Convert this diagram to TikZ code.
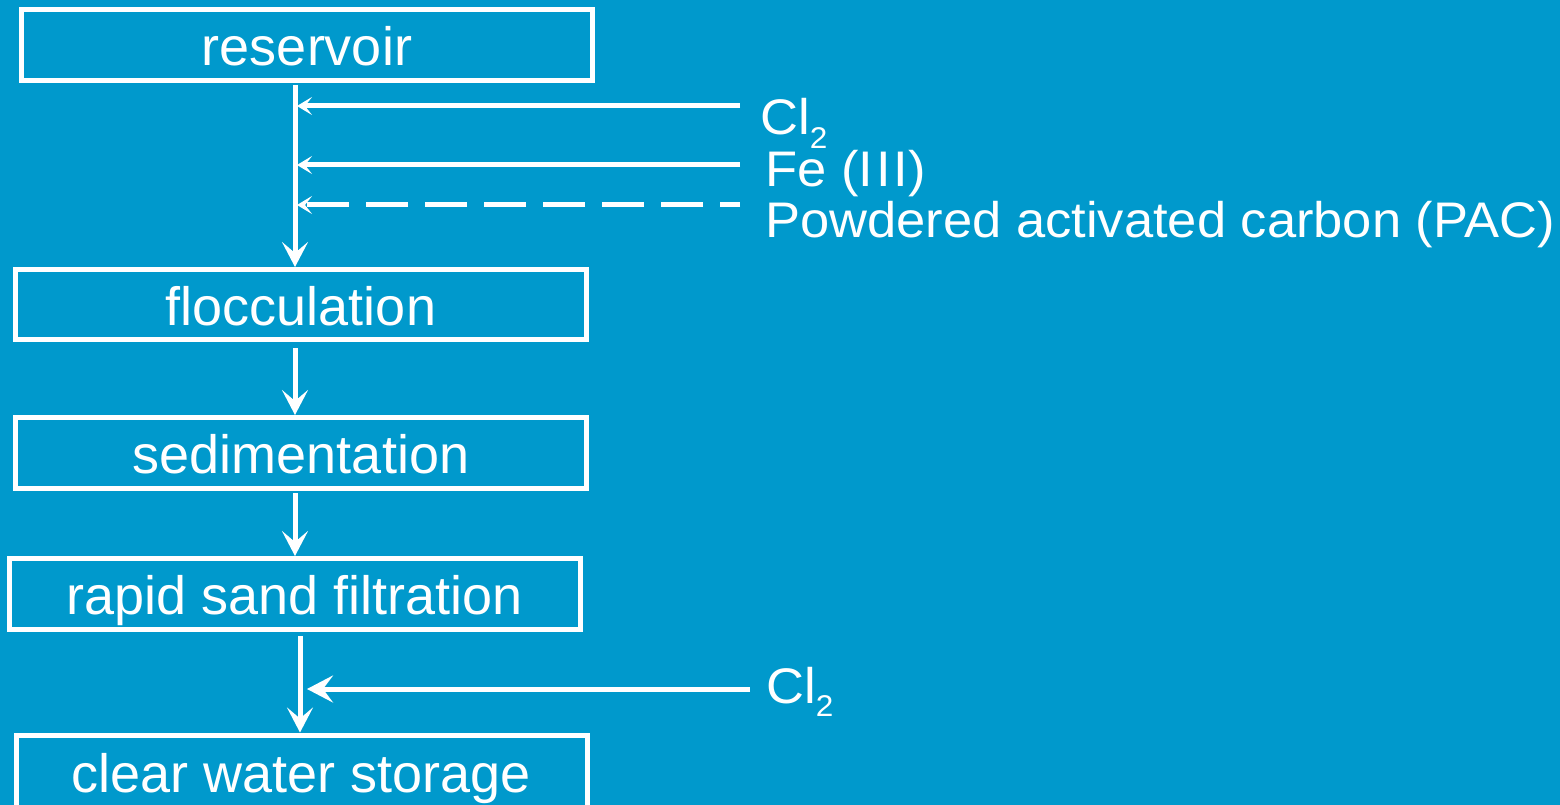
\documentclass[tikz,border=0pt]{standalone}
\usepackage{fontspec}
\setmainfont{Liberation Sans}
\newfontfamily\sidefont{Liberation Sans}[FakeStretch=1.05]
\usetikzlibrary{arrows.meta}
\definecolor{bg}{HTML}{0099CC}
\tikzset{
  stepbox/.style={draw=white, line width=5pt, minimum width=571pt, minimum height=71pt, inner sep=0pt, text height=41pt, text depth=0pt, text=white, font=\fontsize{54}{54}\selectfont},
  flow/.style={draw=white, line width=5pt, -{Stealth[length=25pt,width=26pt,inset=11pt]}},
  feed/.style={draw=white, line width=5pt, -{Stealth[length=15pt,width=18pt,inset=7pt]}},
  feedbig/.style={draw=white, line width=5pt, -{Stealth[length=26pt,width=27pt,inset=10pt]}},
  lbl/.style={anchor=base west, inner sep=0pt, text=white, font=\sidefont\fontsize{50}{50}\selectfont},
}
\newcommand{\subtwo}{{\fontsize{30}{30}\selectfont\raisebox{-13.5pt}{2}}}
\begin{document}
\begin{tikzpicture}[x=1pt,y=-1pt]
\useasboundingbox (0,0) rectangle (1560,805);
\fill[bg] (0,0) rectangle (1560,805);

\node[stepbox, minimum height=71.5pt] (res) at (307,45) {reservoir};
\node[stepbox, minimum height=70pt] (floc) at (301,304.5) {flocculation};
\node[stepbox] (sed) at (301,453) {sedimentation};
\node[stepbox] (rsf) at (295,594) {rapid sand filtration};
\node[stepbox, minimum height=74pt] (cws) at (301.5,772) {clear water storage};

\node[lbl] (cla) at (760,135) {Cl\subtwo};
\node[lbl] (fe) at (765,187) {Fe (I\kern3pt I\kern3pt I)};
\node[lbl] (pac) at (765,237) {Powdered activated carbon (PAC)};
\node[lbl] (clb) at (766,703) {Cl\subtwo};

\coordinate (a1) at (295,85);
\coordinate (a2) at (295,348);
\coordinate (a3) at (295,493);
\coordinate (a4) at (300,636);
\coordinate (fa) at (740,106);
\coordinate (fb) at (740,165);
\coordinate (fc) at (740,205);
\coordinate (fd) at (750,689);

\draw[flow] (a1) -- (a1 |- floc.north);
\draw[flow] (a2) -- (a2 |- sed.north);
\draw[flow] (a3) -- (a3 |- rsf.north);
\draw[flow] (a4) -- (a4 |- cws.north);

\draw[feed] (fa) -- (297,106);
\draw[feed] (fb) -- (297,165);
\draw[feed, dash pattern=on 42pt off 17pt, dash phase=22pt] (fc) -- (297,205);
\draw[feedbig] (fd) -- (307,689);
\end{tikzpicture}
\end{document}
